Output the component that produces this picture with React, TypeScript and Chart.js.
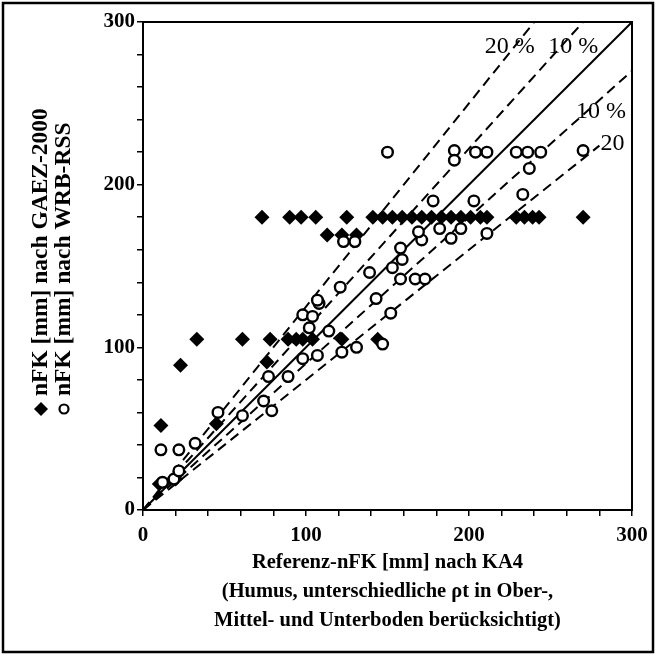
import React, { useEffect, useRef } from 'react';
import { Chart, registerables } from 'chart.js';

Chart.register(...registerables);

// Axis ticks (labels every 100, minor ticks every 20)
const axisMin = 0;
const axisMax = 300;
const tickStep = 20;
const labelStep = 100;

// nFK nach GAEZ-2000 (filled diamonds): reference (x) and value (y)
const gaezRef = [
  73, 90, 97, 106, 125, 141, 147, 153, 159, 165, 171, 177, 183, 189, 195, 201, 207, 211, 229, 234, 239, 243, 270,
  113, 122, 131,
  33, 61, 78, 89, 94, 98, 104, 122, 144,
  23, 11, 45, 76, 10, 20,
];
const gaezVal = [
  180, 180, 180, 180, 180, 180, 180, 180, 180, 180, 180, 180, 180, 180, 180, 180, 180, 180, 180, 180, 180, 180, 180,
  169, 169, 169,
  105, 105, 105, 105, 105, 105, 105, 105, 105,
  89, 52, 53, 91, 16, 19,
];

// nFK nach WRB-RSS (open circles): reference (x) and value (y)
const wrbRef = [
  11, 22, 32, 12, 19, 22, 46, 61, 74, 79, 77, 89, 98, 107, 98, 104, 108, 102, 114, 121, 122, 131, 139, 143, 147,
  152, 123, 130, 150, 191, 191, 204, 211, 229, 236, 244, 237, 270, 178, 203, 233, 182, 171, 169, 195, 189, 211,
  158, 159, 153, 158, 167, 173, 107,
];
const wrbVal = [
  37, 37, 41, 17, 19, 24, 60, 58, 67, 61, 82, 82, 93, 95, 120, 119, 127, 112, 110, 137, 97, 100, 146, 130, 102,
  121, 165, 165, 220, 221, 215, 220, 220, 220, 220, 220, 210, 221, 190, 190, 194, 173, 166, 171, 173, 167, 170,
  161, 154, 149, 142, 142, 142, 129,
];

// Reference lines: end points (start at origin)
const lineOneToOne = [300, 300];
const linePlus20 = [240, 300];
const linePlus10 = [270, 300];
const lineMinus10 = [300, 270];
const lineMinus20 = [280, 224];

// Line annotations (text, x, y in data units)
const lineLabels = ['20 %', '10 %', '10 %', '20'];
const lineLabelX = [225, 264, 281, 288];
const lineLabelY = [285, 285, 245, 225];

const xTitle = [
  'Referenz-nFK [mm] nach KA4',
  '(Humus, unterschiedliche \u03C1t in Ober-,',
  'Mittel- und Unterboden ber\u00FCcksichtigt)',
];
const yTitleGaez = 'nFK [mm] nach GAEZ-2000';
const yTitleWrb = 'nFK [mm] nach WRB-RSS';

const FONT = '"Liberation Serif", "Times New Roman", serif';

function pts(xs: number[], ys: number[]) {
  return xs.map((x, i) => ({ x, y: ys[i] }));
}
function seg(end: number[]) {
  return [{ x: 0, y: 0 }, { x: end[0], y: end[1] }];
}

const decorPlugin = {
  id: 'decor',
  afterDraw(chart: any) {
    const ctx = chart.ctx;
    const a = chart.chartArea;
    const xs = chart.scales.x;
    const ys = chart.scales.y;
    ctx.save();
    // plot frame
    ctx.strokeStyle = '#000';
    ctx.lineWidth = 2;
    ctx.strokeRect(a.left, a.top, a.right - a.left, a.bottom - a.top);
    // outer frame
    ctx.lineWidth = 2.5;
    ctx.strokeRect(3, 3, 650, 649);

    // line labels
    ctx.fillStyle = '#000';
    ctx.font = `24px ${FONT}`;
    ctx.textAlign = 'center';
    ctx.textBaseline = 'middle';
    lineLabels.forEach((t, i) => {
      ctx.fillText(t, xs.getPixelForValue(lineLabelX[i]), ys.getPixelForValue(lineLabelY[i]));
    });

    // y-axis titles with markers
    const drawRot = (cx: number, startY: number, text: string) => {
      ctx.save();
      ctx.translate(cx, startY);
      ctx.rotate(-Math.PI / 2);
      ctx.font = `bold 23.5px ${FONT}`;
      ctx.textAlign = 'left';
      ctx.textBaseline = 'middle';
      ctx.fillText(text, 0, 0);
      ctx.restore();
    };
    drawRot(41, 396, yTitleGaez);
    drawRot(64, 396, yTitleWrb);
    // diamond marker
    ctx.beginPath();
    ctx.moveTo(41, 402);
    ctx.lineTo(48, 409);
    ctx.lineTo(41, 416);
    ctx.lineTo(34, 409);
    ctx.closePath();
    ctx.fill();
    // circle marker
    ctx.beginPath();
    ctx.arc(64, 409, 4.5, 0, Math.PI * 2);
    ctx.lineWidth = 2.2;
    ctx.stroke();
    ctx.restore();
  },
};

export default function App() {
  const ref = useRef<HTMLCanvasElement>(null);
  useEffect(() => {
    document.body.style.margin = '0';
    const lineDs = (data: any, dashed: boolean) => ({
      type: 'line' as const,
      data,
      borderColor: '#000',
      borderWidth: 2,
      borderDash: dashed ? [10, 6] : [],
      pointRadius: 0,
      fill: false,
      showLine: true,
    });
    const chart = new Chart(ref.current!, {
      type: 'scatter',
      data: {
        datasets: [
          {
            label: 'nFK [mm] nach WRB-RSS',
            data: pts(wrbRef, wrbVal),
            pointStyle: 'circle',
            pointRadius: 5.3,
            pointBorderWidth: 2.4,
            pointBorderColor: '#000',
            pointBackgroundColor: '#fff',
          },
          {
            label: 'nFK [mm] nach GAEZ-2000',
            data: pts(gaezRef, gaezVal),
            pointStyle: 'rectRot',
            pointRadius: 7.5,
            pointBorderWidth: 0,
            pointBorderColor: '#000',
            pointBackgroundColor: '#000',
          },
          lineDs(seg(lineOneToOne), false),
          lineDs(seg(linePlus20), true),
          lineDs(seg(linePlus10), true),
          lineDs(seg(lineMinus10), true),
          lineDs(seg(lineMinus20), true),
        ] as any,
      },
      options: {
        responsive: false,
        animation: false,
        devicePixelRatio: 1,
        layout: { padding: { left: 0, right: 25, top: 22, bottom: 0 } },
        plugins: { legend: { display: false }, tooltip: { enabled: false } },
        scales: {
          x: {
            type: 'linear',
            min: axisMin,
            max: axisMax,
            afterFit: (s: any) => {
              s.height = 146;
            },
            grid: { drawOnChartArea: false, drawTicks: true, tickLength: 6, color: '#000', lineWidth: 1.5 },
            border: { display: true, color: '#000', width: 2 },
            ticks: {
              stepSize: tickStep,
              autoSkip: false,
              maxRotation: 0,
              padding: 7,
              color: '#000',
              font: { family: FONT, size: 21, weight: 'bold' },
              callback: (v: any) => (Number(v) % labelStep === 0 ? String(v) : ''),
            },
            title: {
              display: true,
              text: xTitle,
              color: '#000',
              font: { family: FONT, size: 20.5, weight: 'bold', lineHeight: 1.42 },
              padding: { top: 0, bottom: 21 },
            },
          },
          y: {
            type: 'linear',
            min: axisMin,
            max: axisMax,
            afterFit: (s: any) => {
              s.width = 143;
            },
            grid: { drawOnChartArea: false, drawTicks: true, tickLength: 6, color: '#000', lineWidth: 1.5 },
            border: { display: true, color: '#000', width: 2 },
            ticks: {
              stepSize: tickStep,
              autoSkip: false,
              padding: 2,
              color: '#000',
              font: { family: FONT, size: 21, weight: 'bold' },
              callback: (v: any) => (Number(v) % labelStep === 0 ? String(v) : ''),
            },
          },
        },
      } as any,
      plugins: [decorPlugin],
    });
    return () => chart.destroy();
  }, []);
  return <canvas ref={ref} width={657} height={656} style={{ display: 'block' }} />;
}
